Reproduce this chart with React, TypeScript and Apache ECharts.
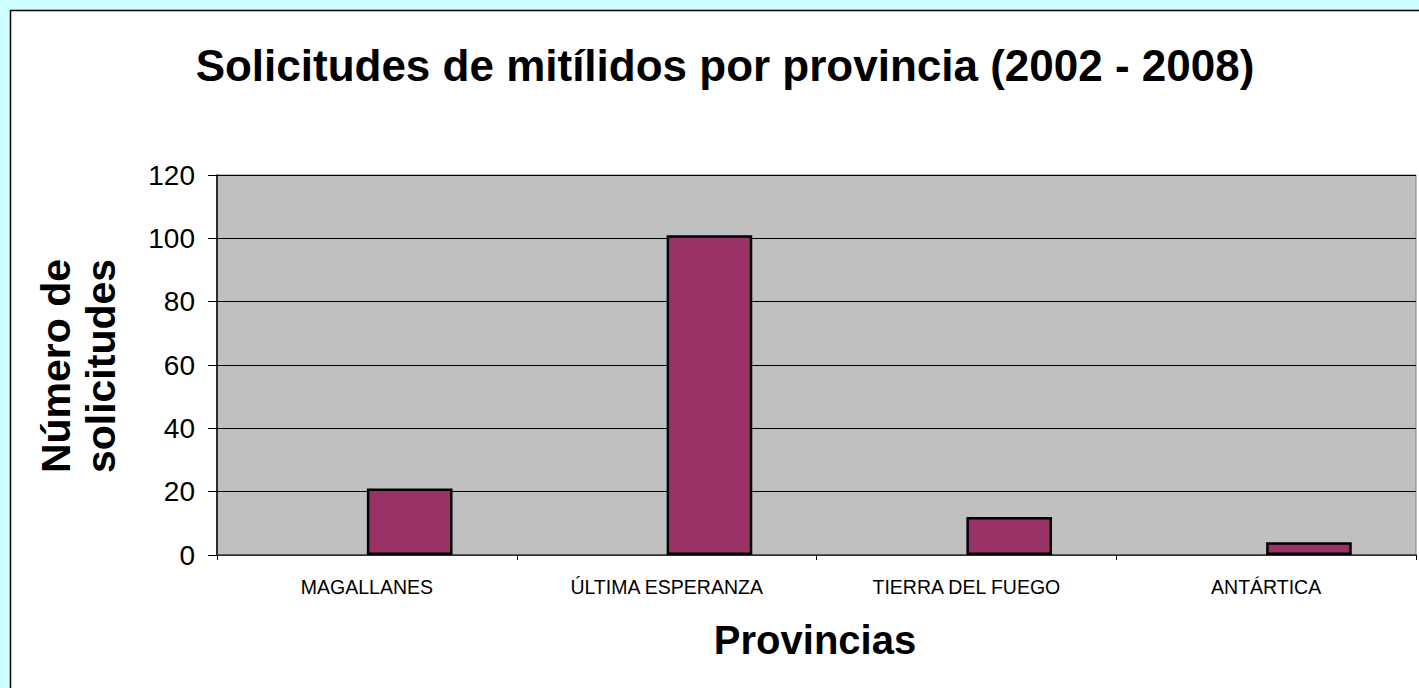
import React, { useEffect, useRef } from "react";
import * as echarts from "echarts";

const categories = ["MAGALLANES", "ÚLTIMA ESPERANZA", "TIERRA DEL FUEGO", "ANTÁRTICA"];
const solicitudes = [21, 101, 12, 4];
const emptySeries = [null, null, null, null];
const yTicks = { min: 0, max: 120, interval: 20 };
const titleText = "Solicitudes de mitílidos por provincia (2002 - 2008)";
const yName = ["Número de", "solicitudes"];
const xName = "Provincias";

const FONT = "'Liberation Sans', Arial, sans-serif";

export default function App() {
  const ref = useRef<HTMLDivElement>(null);
  useEffect(() => {
    document.body.style.margin = "0";
    const chart = echarts.init(ref.current!, null, { renderer: "svg" });
    chart.setOption({
      animation: false,
      backgroundColor: "#CCFFFF",
      graphic: [
        {
          type: "rect",
          shape: { x: 10.5, y: 10.5, width: 1430, height: 700 },
          style: { fill: "#FFFFFF", stroke: "#000000", lineWidth: 1.5 },
          z: -10,
          silent: true,
        },
        {
          type: "text",
          x: 725,
          y: 65,
          style: {
            text: titleText,
            font: `bold 44px ${FONT}`,
            fill: "#000",
            align: "center",
            verticalAlign: "middle",
          },
        },
        {
          type: "text",
          x: 56,
          y: 366,
          rotation: Math.PI / 2,
          style: {
            text: yName[0],
            font: `bold 41px ${FONT}`,
            fill: "#000",
            align: "center",
            verticalAlign: "middle",
          },
        },
        {
          type: "text",
          x: 101,
          y: 366,
          rotation: Math.PI / 2,
          style: {
            text: yName[1],
            font: `bold 41px ${FONT}`,
            fill: "#000",
            align: "center",
            verticalAlign: "middle",
          },
        },
        {
          type: "text",
          x: 815,
          y: 640,
          style: {
            text: xName,
            font: `bold 40px ${FONT}`,
            fill: "#000",
            align: "center",
            verticalAlign: "middle",
          },
        },
      ],
      grid: {
        left: 217,
        top: 175,
        width: 1199,
        height: 380,
        show: true,
        backgroundColor: "#C0C0C0",
        borderColor: "#808080",
        borderWidth: 1,
        containLabel: false,
      },
      xAxis: {
        type: "category",
        data: categories,
        axisLine: { show: true, lineStyle: { color: "#404040", width: 1.5 } },
        axisTick: { show: true, length: 5, lineStyle: { color: "#000" } },
        axisLabel: {
          fontSize: 19.5,
          fontFamily: FONT,
          color: "#000",
          margin: 22,
          interval: 0,
        },
        splitLine: { show: false },
      },
      yAxis: {
        type: "value",
        min: yTicks.min,
        max: yTicks.max,
        interval: yTicks.interval,
        axisLine: { show: true, lineStyle: { color: "#000", width: 1.5 } },
        axisTick: { show: true, length: 9, lineStyle: { color: "#000" } },
        axisLabel: {
          fontSize: 28,
          fontFamily: FONT,
          color: "#000",
          margin: 22,
        },
        splitLine: { show: true, lineStyle: { color: "#000", width: 1 } },
      },
      series: [
        {
          type: "bar",
          name: "vacío",
          data: emptySeries,
          barGap: "0%",
          barCategoryGap: "42.86%",
          itemStyle: { color: "transparent" },
        },
        {
          type: "bar",
          name: "Solicitudes",
          data: solicitudes,
          barGap: "0%",
          barCategoryGap: "42.86%",
          itemStyle: { color: "#993366", borderColor: "#000", borderWidth: 2.5 },
        },
      ],
    });
    return () => chart.dispose();
  }, []);
  return (
    <div
      ref={ref}
      style={{ position: "fixed", left: 0, top: 0, width: 1419, height: 688 }}
    />
  );
}
